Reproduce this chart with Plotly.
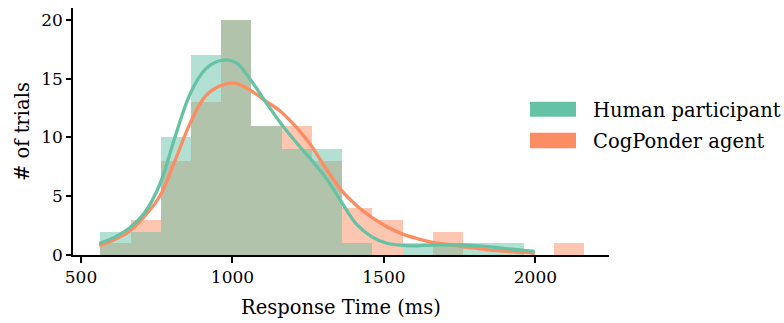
import plotly.graph_objects as go

# Histogram bins (ms) shared by both groups
bin_edges = [563.7, 663.5, 763.3, 863.1, 962.9, 1062.7, 1162.5, 1262.3, 1362.1,
             1461.9, 1561.7, 1661.5, 1761.3, 1861.1, 1960.9, 2060.7, 2160.5]

human_counts = [2, 2, 10, 17, 20, 11, 9, 9, 1, 0, 1, 1, 1, 1, 0, 0]
agent_counts = [1, 3, 8, 13, 20, 11, 11, 8, 4, 3, 0, 2, 0, 0, 0, 1]

# Smoothed density curves (scaled to counts)
kde_x = [560, 610, 660, 710, 760, 810, 860, 910, 960, 1010, 1060, 1110, 1160, 1210,
         1260, 1310, 1360, 1410, 1460, 1510, 1560, 1610, 1660, 1710, 1760, 1810,
         1860, 1910, 1960, 1998]
human_kde_y = [1.0, 1.5, 2.3, 3.6, 6.0, 10.0, 13.7, 15.8, 16.55, 16.4, 14.9, 13.0,
               11.2, 9.6, 8.1, 6.5, 4.5, 2.6, 1.55, 1.0, 0.82, 0.77, 0.85, 0.87, 0.85,
               0.78, 0.67, 0.52, 0.4, 0.3]
agent_kde_y = [0.8, 1.3, 2.0, 3.3, 5.0, 8.0, 11.2, 13.5, 14.4, 14.6, 14.0, 13.1,
               12.2, 10.9, 9.3, 7.3, 5.5, 4.2, 3.2, 2.4, 1.8, 1.4, 1.08, 0.9, 0.7,
               0.55, 0.4, 0.3, 0.2, 0.14]

colors = {"Human participant": "#66c2a5", "CogPonder agent": "#fc8d62"}

x_ticks = [500, 1000, 1500, 2000]
y_ticks = [0, 5, 10, 15, 20]

centers = [(a + b) / 2 for a, b in zip(bin_edges[:-1], bin_edges[1:])]
widths = [b - a for a, b in zip(bin_edges[:-1], bin_edges[1:])]

FONT = "DejaVu Serif"

fig = go.Figure()

# agent bars underneath, human bars on top
for name, counts in [("CogPonder agent", agent_counts), ("Human participant", human_counts)]:
    fig.add_trace(go.Bar(
        x=centers, y=counts, width=widths, name=name,
        marker=dict(color=colors[name], opacity=0.5, line=dict(width=0)),
        showlegend=False, hoverinfo="skip",
    ))

for name, ys in [("CogPonder agent", agent_kde_y), ("Human participant", human_kde_y)]:
    fig.add_trace(go.Scatter(
        x=kde_x, y=ys, mode="lines", name=name,
        line=dict(color=colors[name], width=3.3, shape="spline", smoothing=1.0),
        showlegend=False,
    ))

# legend drawn as swatches + labels
L, R, T, B = 73, 609, 8, 255
def px(xp):
    return (xp - L) / (R - L)
def py(yp):
    return (B - yp) / (B - T)

legend_rows = [("Human participant", 101.7, 116.7, 110.0),
               ("CogPonder agent", 132.7, 148.3, 141.0)]
for name, top, bot, mid in legend_rows:
    fig.add_shape(type="rect", xref="paper", yref="paper",
                  x0=px(530), x1=px(576), y0=py(bot), y1=py(top),
                  fillcolor=colors[name], line=dict(width=0))
    fig.add_annotation(xref="paper", yref="paper", x=px(591), y=py(mid),
                       text=name, showarrow=False, xanchor="left", yanchor="middle",
                       font=dict(family=FONT, size=19.5, color="black"))

fig.update_layout(
    width=784, height=323,
    margin=dict(l=L, r=784 - R, t=T, b=323 - B),
    plot_bgcolor="white", paper_bgcolor="white",
    barmode="overlay", bargap=0,
    font=dict(family=FONT, size=17, color="black"),
)
fig.update_xaxes(
    range=[473.6, 2243], tickvals=x_ticks, ticktext=[str(v) for v in x_ticks],
    showline=True, linecolor="black", linewidth=1.5, mirror=False,
    ticks="outside", ticklen=6, tickwidth=1.5, tickcolor="black",
    showgrid=False, zeroline=False,
    title=dict(text="Response Time (ms)", font=dict(family=FONT, size=19.5), standoff=14),
)
fig.update_yaxes(
    range=[0, 21.02], tickvals=y_ticks, ticktext=[str(v) for v in y_ticks],
    showline=True, linecolor="black", linewidth=1.5, mirror=False,
    ticks="outside", ticklen=5, tickwidth=1.5, tickcolor="black",
    showgrid=False, zeroline=False,
    title=dict(text="# of trials", font=dict(family=FONT, size=19.5), standoff=6),
)

fig.write_html("out.html")
